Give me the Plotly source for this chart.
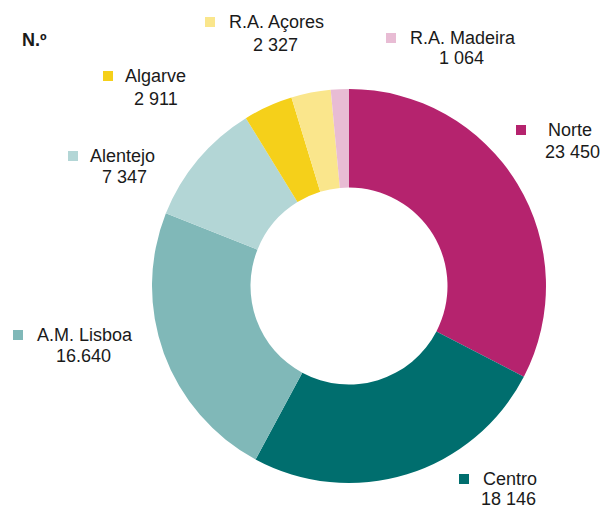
import plotly.graph_objects as go

W, H = 600, 509

regions = ["Norte", "Centro", "A.M. Lisboa", "Alentejo", "Algarve", "R.A. Açores", "R.A. Madeira"]
values = [23450, 18146, 16640, 7347, 2911, 2327, 1064]
value_labels = ["23 450", "18 146", "16.640", "7 347", "2 911", "2 327", "1 064"]
colors = ["#b5236e", "#006e6e", "#80b8b8", "#b3d6d6", "#f5d01a", "#fae68c", "#e8bcd4"]

# label layout in pixel coordinates: (square_x, name_x, name_y, value_center_x, value_y)
label_pos = {
    "Norte": (516, 546, 130, 572, 152),
    "Centro": (459, 481, 479, 508, 499),
    "A.M. Lisboa": (13, 35, 335, 83, 356),
    "Alentejo": (68, 88, 156, 124, 177),
    "Algarve": (103, 123, 76, 156, 99),
    "R.A. Açores": (205, 227, 22, 275, 45),
    "R.A. Madeira": (386, 408, 38, 461, 58),
}

def px(x):
    return x / W

def py(y):
    return 1 - y / H

cx, cy, r = 349, 286, 197

fig = go.Figure(go.Pie(
    labels=regions,
    values=values,
    marker=dict(colors=colors, line=dict(width=0)),
    hole=0.5,
    sort=False,
    direction="clockwise",
    rotation=0,
    textinfo="none",
    hoverinfo="label+value",
    domain=dict(x=[px(cx - r), px(cx + r)], y=[py(cy + r), py(cy - r)]),
    showlegend=False,
))

font = dict(family="Liberation Sans, Arial, sans-serif", size=18, color="#1a1a1a")
annotations = []
shapes = []
for name, vlab, col in zip(regions, value_labels, colors):
    sx, nx, ny, vx, vy = label_pos[name]
    shapes.append(dict(type="rect", xref="paper", yref="paper",
                       x0=px(sx), x1=px(sx + 10), y0=py(ny + 5), y1=py(ny - 5),
                       fillcolor=col, line=dict(width=0)))
    annotations.append(dict(text=name, x=px(nx), y=py(ny), xref="paper", yref="paper",
                            xanchor="left", yanchor="middle", showarrow=False, font=font))
    annotations.append(dict(text=vlab, x=px(vx), y=py(vy), xref="paper", yref="paper",
                            xanchor="center", yanchor="middle", showarrow=False, font=font))

annotations.append(dict(text="<b>N.º</b>", x=px(20), y=py(40), xref="paper", yref="paper",
                        xanchor="left", yanchor="middle", showarrow=False,
                        font=dict(family="Liberation Sans, Arial, sans-serif", size=18, color="#1a1a1a")))

fig.update_layout(
    width=W, height=H,
    margin=dict(l=0, r=0, t=0, b=0),
    paper_bgcolor="white",
    plot_bgcolor="white",
    annotations=annotations,
    shapes=shapes,
)

fig.write_html("out.html", config={"displayModeBar": False},
               post_script="document.body.style.margin='0';document.body.style.overflow='hidden';")
